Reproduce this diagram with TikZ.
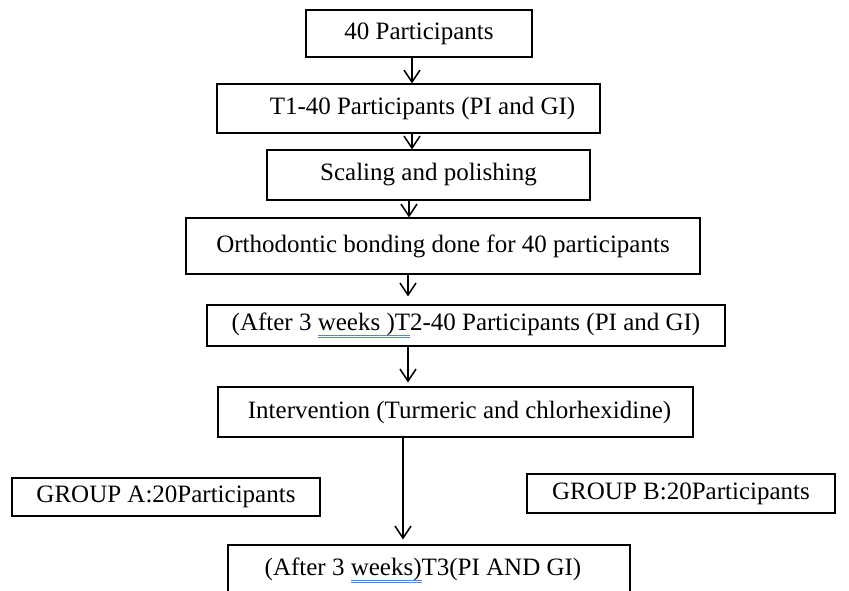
\documentclass[tikz,border=0pt]{standalone}
\usepackage{fontspec}
\setmainfont{Liberation Serif}
\usepackage{xcolor}
\usetikzlibrary{arrows.meta}
\definecolor{spell}{RGB}{90, 130, 220}
\newsavebox\spellbox
\newcommand{\spellmark}[1]{\sbox\spellbox{#1}%
  \rlap{\color{spell}\rule[-2.4pt]{\wd\spellbox}{0.3pt}}%
  \rlap{\color{spell}\rule[-3.4pt]{\wd\spellbox}{0.3pt}}%
  \usebox\spellbox}

\begin{document}
\begin{tikzpicture}[x=0.5pt, y=-0.5pt,
    stagebox/.style={draw, line width=0.6pt, fill=white, inner sep=0pt,
      font=\fontsize{12.5}{15}\selectfont},
    flow/.style={line width=0.75pt, -{Straight Barb[length=6pt, width=8pt, line width=0.75pt]}}]

  \useasboundingbox (0, 0) rectangle (849, 590);
  \clip (0, 0) rectangle (849, 590);

  % boxes: name / centre x / centre y / width / height / text
  \foreach \name/\x/\y/\w/\h/\txt in {
      enrol/419/33.5/226/47/{40 Participants},
      tone/408.5/108.5/383/49/{\hspace*{14pt}T1-40 Participants (PI and GI)},
      scaling/428.5/175/323/50/{Scaling and polishing},
      bonding/443/246/514/56/{Orthodontic bonding done for 40 participants},
      ttwo/466/325.5/518/41/{(After 3 \spellmark{weeks )T}2-40 Participants (PI and GI)},
      interv/455.5/412/475/50/{\hspace*{4pt}Intervention (Turmeric and chlorhexidine)},
      groupa/166/497/308/38/{GROUP A:20Participants},
      groupb/681/493.5/308/39/{GROUP B:20Participants},
      tthree/429/570/402/50/{(After 3 \spellmark{weeks)}T3(PI AND GI)\hspace*{6pt}}} {
    \node[stagebox, minimum width=\w*0.5pt, minimum height=\h*0.5pt] (\name) at (\x, \y) {\txt};
  }

  % arrows: from / to / shift of the line / gap before the head
  \foreach \from/\to/\dx/\gap in {enrol/tone/-3.5pt/0pt, tone/scaling/1.75pt/0pt,
                                  scaling/bonding/-9.75pt/0pt, bonding/ttwo/-17.5pt/4pt,
                                  ttwo/interv/-29pt/2pt, interv/tthree/-26.25pt/2.5pt} {
    \draw[flow, shorten >=\gap] ([xshift=\dx]\from.south) -- ([xshift=\dx]\from.south |- \to.north);
  }

\end{tikzpicture}
\end{document}
